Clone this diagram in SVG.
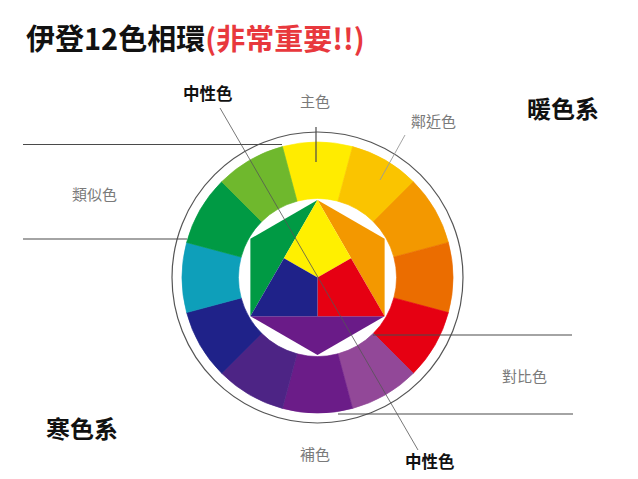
<svg xmlns="http://www.w3.org/2000/svg" xmlns:xlink="http://www.w3.org/1999/xlink" width="638" height="479" viewBox="0 0 638 479">
<style>
text{font-family:"Noto Sans CJK TC","Noto Sans CJK SC",sans-serif}
.title{font-size:29px;font-weight:700;fill:#111}
.red{fill:#e8383d}
.big{font-size:24px;font-weight:700;fill:#111}
.bold{font-size:16.5px;font-weight:700;fill:#111}
.gray{font-size:15px;font-weight:400;fill:#7a7a7a}
.ln{stroke:#4a4a4a;stroke-width:1.2;fill:none}
.thin{stroke:#555;stroke-width:0.8;fill:none}
.lite{stroke:#9a9a9a;stroke-width:0.9;fill:none}
</style>
<defs>
<path id="seg" d="M282.43 146.62A135.5 135.5 0 0 1 352.57 146.62L337.95 201.19A79 79 0 0 0 297.05 201.19Z" stroke-width="0.6"/>
</defs>
<rect width="638" height="479" fill="#fff"/>

<g id="title">
<text class="title" x="26" y="50">伊登12色相環<tspan class="red">(非常重要!!)</tspan></text>
</g>

<g id="wheel">
<circle cx="317.5" cy="277.5" r="145.5" fill="none" stroke="#555" stroke-width="1.2"/>
<use xlink:href="#seg" fill="#ffec00" stroke="#ffec00"/>
<use xlink:href="#seg" transform="rotate(30 317.5 277.5)" fill="#fac400" stroke="#fac400"/>
<use xlink:href="#seg" transform="rotate(60 317.5 277.5)" fill="#f39800" stroke="#f39800"/>
<use xlink:href="#seg" transform="rotate(90 317.5 277.5)" fill="#eb6d00" stroke="#eb6d00"/>
<use xlink:href="#seg" transform="rotate(120 317.5 277.5)" fill="#e60012" stroke="#e60012"/>
<use xlink:href="#seg" transform="rotate(150 317.5 277.5)" fill="#924898" stroke="#924898"/>
<use xlink:href="#seg" transform="rotate(180 317.5 277.5)" fill="#6b1c88" stroke="#6b1c88"/>
<use xlink:href="#seg" transform="rotate(210 317.5 277.5)" fill="#4d2485" stroke="#4d2485"/>
<use xlink:href="#seg" transform="rotate(240 317.5 277.5)" fill="#1f2289" stroke="#1f2289"/>
<use xlink:href="#seg" transform="rotate(270 317.5 277.5)" fill="#0e9fba" stroke="#0e9fba"/>
<use xlink:href="#seg" transform="rotate(300 317.5 277.5)" fill="#009a44" stroke="#009a44"/>
<use xlink:href="#seg" transform="rotate(330 317.5 277.5)" fill="#6fb82d" stroke="#6fb82d"/>
</g>

<g id="hexagon">
<polygon points="317.5,200 250.38,238.75 250.38,316.25" fill="#009a44"/>
<polygon points="317.5,200 384.62,238.75 384.62,316.25" fill="#f39800"/>
<polygon points="250.38,316.25 384.62,316.25 317.5,355" fill="#6a1b88"/>
<polygon points="317.5,200 351.06,258.13 317.5,277.5 283.94,258.13" fill="#fff000"/>
<polygon points="317.5,277.5 351.06,258.13 384.62,316.25 317.5,316.25" fill="#e60012"/>
<polygon points="317.5,277.5 317.5,316.25 250.38,316.25 283.94,258.13" fill="#1f2289"/>
</g>

<g id="connectors">
<line class="ln" x1="23" y1="144.5" x2="282" y2="144.5"/>
<line class="ln" x1="23" y1="239" x2="187" y2="239"/>
<line class="ln" x1="373" y1="335" x2="572" y2="335"/>
<line class="ln" x1="338" y1="414" x2="573" y2="414"/>
<line class="ln" x1="316" y1="127" x2="316" y2="162"/>
<line class="lite" x1="405" y1="135" x2="380" y2="180"/>
<line class="thin" x1="220" y1="108" x2="418" y2="450"/>
</g>

<g id="labels">
<text class="bold" x="183" y="100">中性色</text>
<text class="gray" x="300" y="107">主色</text>
<text class="gray" x="411" y="127">鄰近色</text>
<text class="big" x="527" y="118">暖色系</text>
<text class="gray" x="72" y="200">類似色</text>
<text class="gray" x="502" y="382">對比色</text>
<text class="big" x="46" y="438">寒色系</text>
<text class="gray" x="300" y="460">補色</text>
<text class="bold" x="405" y="468">中性色</text>
</g>
</svg>
